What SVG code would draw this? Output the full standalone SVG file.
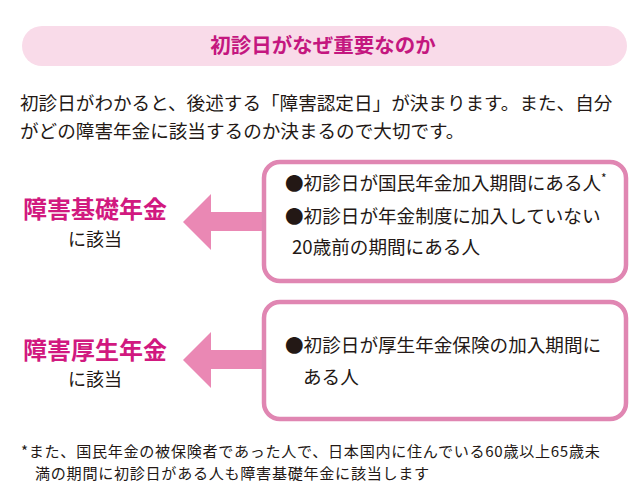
<svg xmlns="http://www.w3.org/2000/svg" width="640" height="497" viewBox="0 0 640 497">
<style>
.jp{font-family:"Noto Sans CJK JP","Noto Sans CJK SC",sans-serif;}
.body{font-size:18.6px;fill:#231815;}
.box{fill:#ffffff;stroke:#e086b2;stroke-width:4.5;}
.arrow{fill:#ea88b4;}
.lbl{font-size:24px;font-weight:700;fill:#d1197f;}
.sub{font-size:18px;fill:#231815;}
.note{font-size:15.1px;letter-spacing:0.7px;fill:#231815;}
</style>
<rect width="640" height="497" fill="#ffffff"/>
<g id="header">
<rect x="22" y="26" width="605" height="40" rx="20" fill="#f9dbe9"/>
<text class="jp" x="323" y="53" text-anchor="middle" font-size="20.5" font-weight="700" fill="#c4177f">初診日がなぜ重要なのか</text>
</g>
<g id="intro" class="jp body">
<text x="20" y="110">初診日がわかると、後述する「障害認定日」が決まります。また、自分</text>
<text x="20" y="138">がどの障害年金に該当するのか決まるので大切です。</text>
</g>
<g id="connectors">
<polygon class="arrow" points="183,222 211,194 211,212 266,212 266,231 211,231 211,250"/>
<polygon class="arrow" points="183,360 211,332 211,350 266,350 266,369 211,369 211,388"/>
</g>
<g id="kiso">
<text class="jp lbl" x="95" y="218" text-anchor="middle">障害基礎年金</text>
<text class="jp sub" x="95" y="246" text-anchor="middle">に該当</text>
</g>
<g id="kousei">
<text class="jp lbl" x="95" y="359" text-anchor="middle">障害厚生年金</text>
<text class="jp sub" x="95" y="386" text-anchor="middle">に該当</text>
</g>
<g id="box1">
<rect class="box" x="264" y="162" width="362" height="119" rx="16"/>
<g class="jp body">
<text x="285" y="190">●初診日が国民年金加入期間にある人<tspan font-size="12" dy="-7">*</tspan></text>
<text x="285" y="223">●初診日が年金制度に加入していない</text>
<text x="292" y="254">20歳前の期間にある人</text>
</g>
</g>
<g id="box2">
<rect class="box" x="264" y="302" width="362" height="117" rx="16"/>
<g class="jp body">
<text x="285" y="352">●初診日が厚生年金保険の加入期間に</text>
<text x="303" y="384">ある人</text>
</g>
</g>
<g id="footnote" class="jp note">
<text x="21" y="457">*また、国民年金の被保険者であった人で、日本国内に住んでいる60歳以上65歳未</text>
<text x="35" y="479">満の期間に初診日がある人も障害基礎年金に該当します</text>
</g>
</svg>
